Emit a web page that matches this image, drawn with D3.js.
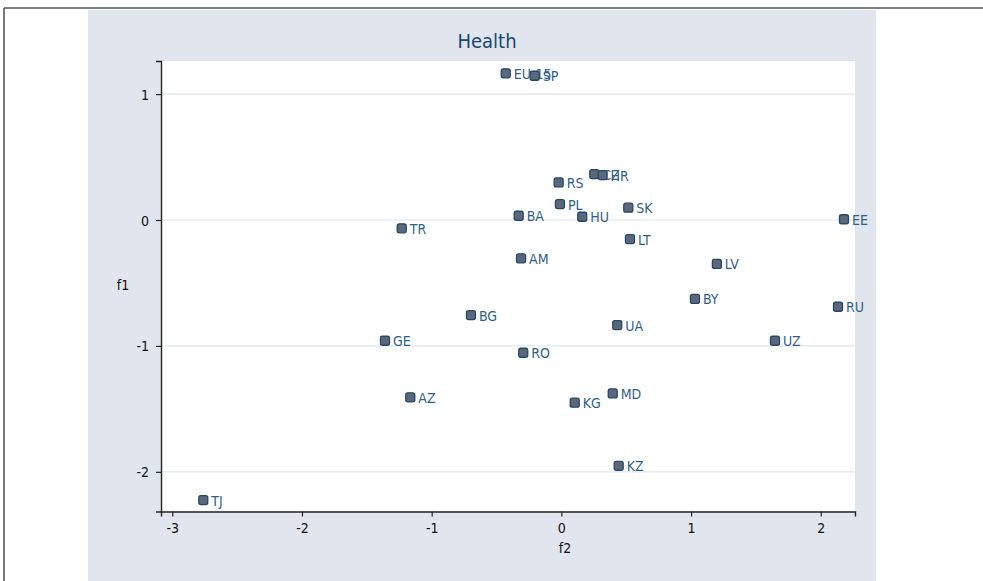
<!DOCTYPE html>
<html><head><meta charset="utf-8">
<script src="https://cdn.jsdelivr.net/npm/d3@7"></script>
<style>
body{margin:0;background:#fff;}
text{font-family:'DejaVu Sans Condensed','DejaVu Sans',sans-serif;font-stretch:condensed;}
</style></head>
<body><svg id="c" width="983" height="581"></svg>
<script>
const countries = ["EU-15","SP","CZ","HR","RS","PL","BA","HU","SK","LT","TR","AM","EE","RU","LV","BY","BG","UA","GE","UZ","RO","MD","AZ","KG","KZ","TJ"];
const f2 = [-0.429,-0.206,0.254,0.318,-0.021,-0.011,-0.329,0.161,0.516,0.529,-1.231,-0.311,2.179,2.133,1.199,1.030,-0.697,0.431,-1.360,1.647,-0.294,0.396,-1.165,0.103,0.442,-2.761];
const f1 = [1.165,1.146,0.365,0.357,0.299,0.127,0.034,0.026,0.098,-0.151,-0.066,-0.304,0.006,-0.689,-0.349,-0.627,-0.755,-0.834,-0.959,-0.959,-1.054,-1.377,-1.408,-1.451,-1.952,-2.224];
const xTicks = [-3,-2,-1,0,1,2];
const yTicks = [-2,-1,0,1];
const title = "Health", xTitle = "f2", yTitle = "f1";

const svg = d3.select("#c");
svg.append("line").attr("x1",4).attr("x2",983).attr("y1",8).attr("y2",8).attr("stroke","#555").attr("stroke-width",1.6);
svg.append("line").attr("x1",4).attr("x2",4).attr("y1",8).attr("y2",581).attr("stroke","#555").attr("stroke-width",1.6);
svg.append("rect").attr("x",88).attr("y",10).attr("width",788).attr("height",571).attr("fill","#e1e5ed");
const L=161,R=855,T=61,B=511.5;
svg.append("rect").attr("x",L).attr("y",T).attr("width",R-L).attr("height",B-T).attr("fill","#fff");

const x = d3.scaleLinear().domain([-3.087,2.264]).range([L,R]);
const y = d3.scaleLinear().domain([-2.315,1.263]).range([B,T]);

svg.append("g").selectAll("line").data(yTicks).join("line")
  .attr("x1",L).attr("x2",R).attr("y1",d=>y(d)).attr("y2",d=>y(d))
  .attr("stroke","#dfe6ef").attr("stroke-width",1.2);

const fmt = d => String(d);
const xa = svg.append("g").attr("transform",`translate(0,${B})`)
  .call(d3.axisBottom(x).tickValues(xTicks).tickSize(5).tickPadding(7).tickFormat(fmt));
const ya = svg.append("g").attr("transform",`translate(${L},0)`)
  .call(d3.axisLeft(y).tickValues(yTicks).tickSize(5).tickPadding(7).tickFormat(fmt));
[xa,ya].forEach(a=>{
  a.select(".domain").attr("stroke","#222").attr("stroke-width",1.4);
  a.selectAll(".tick line").attr("stroke","#222").attr("stroke-width",1.2);
  a.selectAll(".tick text").attr("fill","#111").style("font-size","14px").style("font-family","'DejaVu Sans Condensed','DejaVu Sans',sans-serif").style("font-stretch","condensed");
});
ya.selectAll(".tick text").attr("dy","0.36em");

svg.append("text").attr("x",487).attr("y",48).attr("text-anchor","middle").attr("fill","#1a476f").style("font-size","20px").text(title);
svg.append("text").attr("x",565).attr("y",553).attr("text-anchor","middle").attr("fill","#111").style("font-size","14px").text(xTitle);
svg.append("text").attr("x",123).attr("y",290).attr("text-anchor","middle").attr("fill","#111").style("font-size","14px").text(yTitle);

const data = countries.map((c,i)=>({c,x:f2[i],y:f1[i]}));
const g = svg.append("g").selectAll("g").data(data).join("g")
  .attr("transform",d=>`translate(${x(d.x)},${y(d.y)})`);
g.append("rect").attr("x",-4.5).attr("y",-4.5).attr("width",9).attr("height",9).attr("rx",2)
  .attr("fill","#5f6678").attr("stroke","#1f4a70").attr("stroke-width",1.3);
g.append("text").attr("x",8).attr("y",5.5).attr("fill","#2f5f88").style("font-size","14px").text(d=>d.c);
</script></body></html>
